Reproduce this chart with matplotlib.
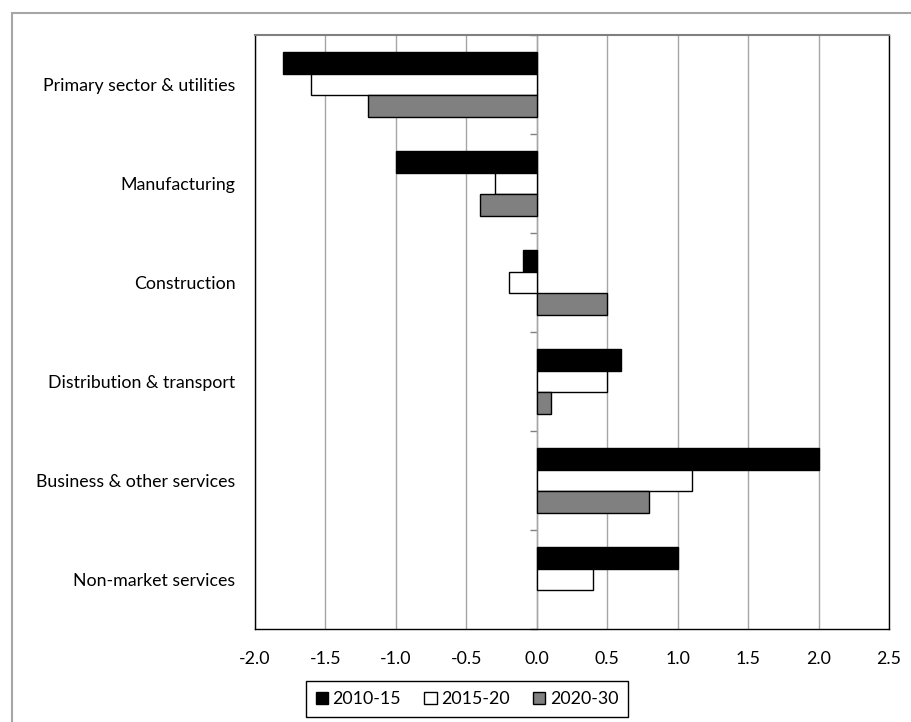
import matplotlib
matplotlib.use("Agg")
import matplotlib.pyplot as plt
from matplotlib.patches import Rectangle
import numpy as np

plt.rcParams["font.family"] = ["Lato", "DejaVu Sans"]

sectors = ["Primary sector & utilities", "Manufacturing", "Construction",
           "Distribution & transport", "Business & other services", "Non-market services"]
periods = ["2010-15", "2015-20", "2020-30"]
v_2010_15 = [-1.8, -1.0, -0.1, 0.6, 2.0, 1.0]
v_2015_20 = [-1.6, -0.3, -0.2, 0.5, 1.1, 0.4]
v_2020_30 = [-1.2, -0.4, 0.5, 0.1, 0.8, 0.0]
xticks = [-2.0, -1.5, -1.0, -0.5, 0.0, 0.5, 1.0, 1.5, 2.0, 2.5]

colors = ["#000000", "#ffffff", "#808080"]
series = [v_2010_15, v_2015_20, v_2020_30]
FS = 12.8

fig = plt.figure(figsize=(9.11, 7.22), dpi=100)
ax = fig.add_axes([255 / 911, 1 - 629 / 722, (889 - 255) / 911, (629 - 35) / 722])

y = np.arange(len(sectors))
h = 0.222
for i, (vals, c, lab) in enumerate(zip(series, colors, periods)):
    lw = [0 if v == 0 else 1.0 for v in vals]      # Excel draws nothing for a zero bar
    ax.barh(y + (i - 1) * h, vals, height=h, color=c, edgecolor="black",
            linewidth=lw, label=lab, zorder=3)

ax.set_ylim(len(sectors) - 0.5, -0.5)
ax.set_xlim(-2.0, 2.5)
ax.set_xticks(xticks)
ax.set_xticklabels([f"{t:.1f}" for t in xticks], fontsize=FS)
ax.set_yticks(y)
ax.set_yticklabels(sectors, fontsize=FS)
ax.tick_params(axis="y", length=0, pad=14)
ax.tick_params(axis="x", length=0, pad=16)
ax.grid(axis="x", color="#a6a6a6", lw=1.0, zorder=0)
for s in ["left", "bottom", "right"]:
    ax.spines[s].set_color("black")
    ax.spines[s].set_linewidth(1.0)
ax.spines["top"].set_color("#808080")
ax.spines["top"].set_linewidth(1.5)

# category axis drawn at x = 0, with boundary ticks
sec = ax.secondary_yaxis((0 - xticks[0]) / (xticks[-1] - xticks[0]))
sec.set_yticks(np.arange(len(sectors) + 1) - 0.5)
sec.set_yticklabels([])
sec.tick_params(length=5, color="#808080", width=1)
sec.spines["left"].set_color("#a6a6a6")
sec.spines["left"].set_linewidth(1.0)

leg = fig.legend(loc="center", bbox_to_anchor=(467 / 911, 1 - 699 / 722), ncol=3,
                 fontsize=FS, frameon=True, fancybox=False, edgecolor="black",
                 framealpha=1, handlelength=0.7, handleheight=0.7, handletextpad=0.25,
                 columnspacing=1.3, borderpad=0.55, borderaxespad=0)
leg.get_frame().set_linewidth(1.0)

fig.add_artist(Rectangle((12 / 911, -0.05), 1.1, 1 - 13 / 722 + 0.05,
                         transform=fig.transFigure, fill=False,
                         edgecolor="#a6a6a6", lw=1.5))

fig.savefig("out.png", dpi=100)
